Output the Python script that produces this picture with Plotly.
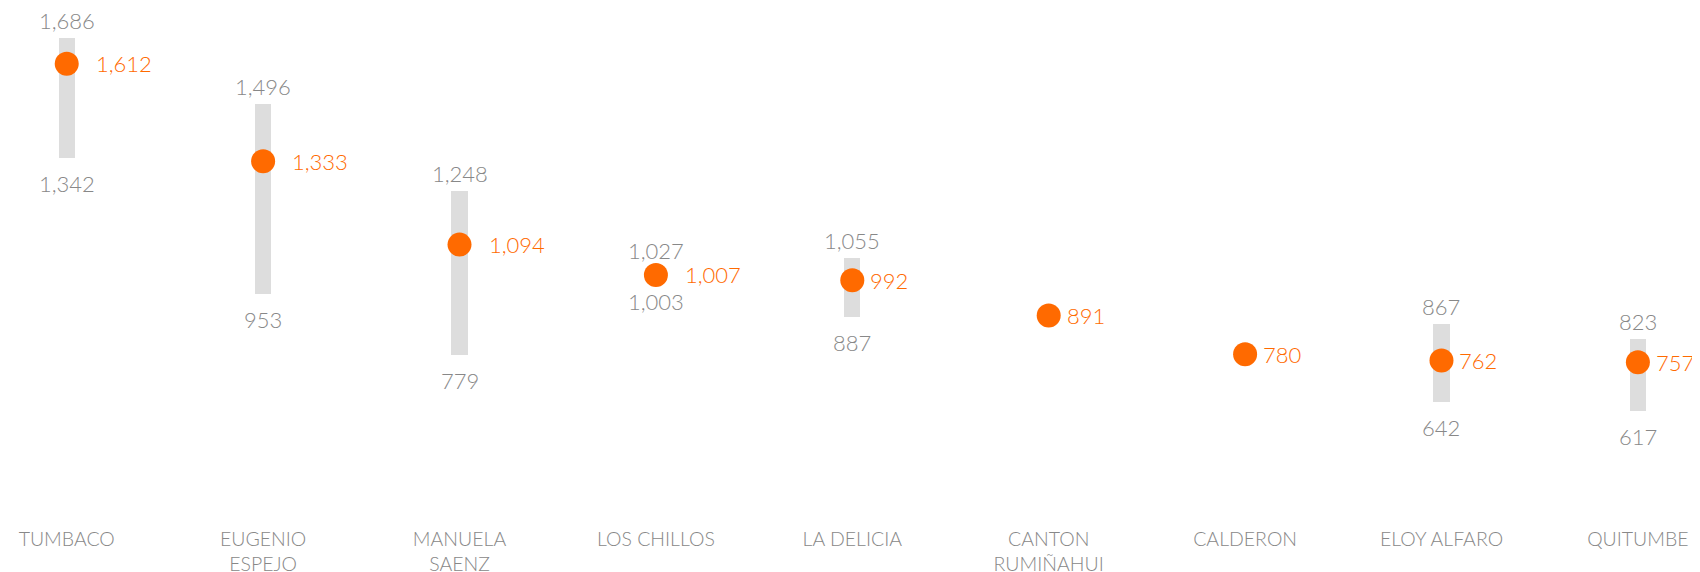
import plotly.graph_objects as go

categories = ["TUMBACO", "EUGENIO<br>ESPEJO", "MANUELA<br>SAENZ", "LOS CHILLOS", "LA DELICIA",
              "CANTON<br>RUMIÑAHUI", "CALDERON", "ELOY ALFARO", "QUITUMBE"]
values = [1612, 1333, 1094, 1007, 992, 891, 780, 762, 757]
highs = [1686, 1496, 1248, 1027, 1055, None, None, 867, 823]
lows = [1342, 953, 779, 1003, 887, None, None, 642, 617]

GRAY_TEXT = "#888888"
ORANGE = "#ff6a00"
FONT = "Lato"

xs = list(range(len(categories)))

fig = go.Figure()

bar_x, bar_base, bar_len = [], [], []
for i, (h, l) in enumerate(zip(highs, lows)):
    if h is not None and l is not None:
        bar_x.append(i)
        bar_base.append(l)
        bar_len.append(h - l)

fig.add_trace(go.Bar(x=bar_x, y=bar_len, base=bar_base, width=0.082,
                     marker=dict(color="#dddddd", line=dict(width=0)),
                     hoverinfo="skip", showlegend=False))

fig.add_trace(go.Scatter(x=xs, y=values, mode="markers",
                         marker=dict(size=24, color=ORANGE, line=dict(width=0)),
                         showlegend=False))

annotations = []
for i, (v, h, l) in enumerate(zip(values, highs, lows)):
    annotations.append(dict(x=i, y=v, text=f"{v:,}", showarrow=False,
                            xanchor="left", yanchor="middle",
                            xshift=27 if v >= 1000 else 16,
                            font=dict(family=FONT, size=22, color=ORANGE, weight=300)))
    if h is not None:
        annotations.append(dict(x=i, y=h, text=f"{h:,}", showarrow=False,
                                xanchor="center", yanchor="bottom", yshift=2,
                                font=dict(family=FONT, size=22, color=GRAY_TEXT, weight=300)))
    if l is not None:
        annotations.append(dict(x=i, y=l, text=f"{l:,}", showarrow=False,
                                xanchor="center", yanchor="top", yshift=-10,
                                font=dict(family=FONT, size=22, color=GRAY_TEXT, weight=300)))

fig.update_layout(
    width=1700, height=572,
    margin=dict(l=0, r=0, t=0, b=55),
    plot_bgcolor="white", paper_bgcolor="white",
    annotations=annotations,
    bargap=0,
)
fig.update_xaxes(range=[-0.299, 8.357], tickmode="array", tickvals=xs, ticktext=categories,
                 showgrid=False, zeroline=False, showline=False, ticks="",
                 tickfont=dict(family=FONT, size=19.5, color=GRAY_TEXT, weight=300))
fig.update_yaxes(range=[290.6, 1772.0], visible=False, showgrid=False, zeroline=False)

fig.write_html("out.html")
